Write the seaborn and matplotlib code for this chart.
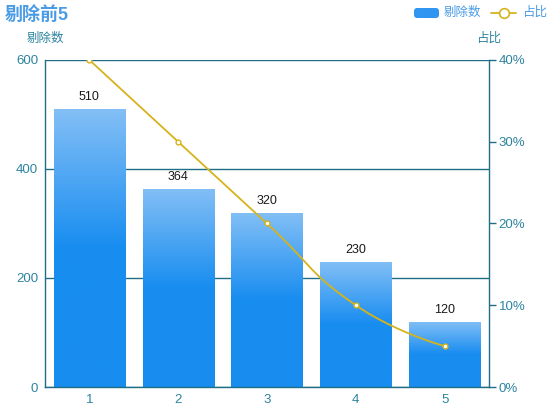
import numpy as np
import pandas as pd
import matplotlib
matplotlib.use('Agg')
import matplotlib.pyplot as plt
import seaborn as sns
from matplotlib.patches import FancyBboxPatch
from matplotlib.lines import Line2D

# datos
categorias = ['1', '2', '3', '4', '5']
tichu = [510, 364, 320, 230, 120]
zhanbi = [40, 30, 20, 10, 5]
ticks_izq = [0, 200, 400, 600]
ticks_der = [0, 10, 20, 30, 40]

sns.set_style('white')
plt.rcParams['font.family'] = ['Liberation Sans', 'Noto Sans CJK SC', 'DejaVu Sans']

teal = '#1e6e86'
tick_c = '#2d84a0'
azul_txt = '#4a9be6'
amarillo = '#d6b31c'
claro = np.array([0x83, 0xbf, 0xf6]) / 255
oscuro = np.array([0x18, 0x8d, 0xf0]) / 255

fig = plt.figure(figsize=(5.5, 4.2), dpi=100)
ax = fig.add_axes([45/550, 33/420, 444/550, 327/420])

df = pd.DataFrame({'cat': categorias, 'n': tichu})
sns.barplot(data=df, x='cat', y='n', color='#188df0', saturation=1, width=0.8, ax=ax, zorder=2)

# degradado por barra (claro arriba, oscuro desde la mitad)
filas = 200
t = np.linspace(1, 0, filas)
f = np.clip(t / 0.5, 0, 1)[:, None]
grad = claro * (1 - f) + oscuro * f
grad = grad[:, None, :]
for p in ax.patches:
    x0, w, h = p.get_x(), p.get_width(), p.get_height()
    im = ax.imshow(grad, extent=[x0, x0 + w, 0, h], origin='lower', aspect='auto', zorder=2)
    im.set_clip_path(p)
    p.set_facecolor('none')
    p.set_edgecolor('none')
    ax.annotate(str(int(h)), (x0 + w / 2, h), xytext=(0, 4), textcoords='offset points',
                ha='center', va='bottom', fontsize=9, color='#1a1a1a')

ax.set_xlim(-0.5, 4.5)
ax.set_ylim(0, 600)
ax.set_yticks(ticks_izq)
ax.set_xlabel('')
ax.set_ylabel('')
ax.yaxis.grid(True, color=teal, lw=1)
ax.set_axisbelow(True)
ax.tick_params(axis='both', length=0, pad=5, labelcolor=tick_c, labelsize=9.5)
for s in ['top', 'right']:
    ax.spines[s].set_visible(False)
for s in ['left', 'bottom']:
    ax.spines[s].set_color(teal)
    ax.spines[s].set_linewidth(1)

# curva suave tipo echarts (en pixeles)
ax2 = ax.twinx()
sx, sy = 444 / 5, 327 / 40
P = np.column_stack([np.arange(len(zhanbi)) * sx, np.array(zhanbi) * sy])
n = len(P)
cin = P.copy()
cout = P.copy()
suave = 0.5
for i in range(1, n - 1):
    v = P[i + 1] - P[i - 1]
    dn = np.linalg.norm(P[i + 1] - P[i])
    dp = np.linalg.norm(P[i] - P[i - 1])
    r = dn / (dn + dp)
    cin[i] = P[i] - v * suave * (1 - r)
    cout[i] = P[i] + v * suave * r
tt = np.linspace(0, 1, 40)[:, None]
curva = []
for i in range(n - 1):
    b = ((1 - tt) ** 3 * P[i] + 3 * (1 - tt) ** 2 * tt * cout[i]
         + 3 * (1 - tt) * tt ** 2 * cin[i + 1] + tt ** 3 * P[i + 1])
    curva.append(b)
curva = np.vstack(curva)
sns.lineplot(x=curva[:, 0] / sx, y=curva[:, 1] / sy, sort=False, estimator=None,
             color=amarillo, lw=1.3, ax=ax2)
sns.scatterplot(x=np.arange(len(zhanbi)), y=zhanbi, s=12, color='white',
                edgecolor=amarillo, linewidth=1, zorder=5, ax=ax2)

ax2.set_ylim(0, 40)
ax2.set_yticks(ticks_der)
ax2.set_yticklabels([f'{v}%' for v in ticks_der])
ax2.set_ylabel('')
ax2.tick_params(axis='y', length=5, width=1, color=teal, pad=2, labelcolor=tick_c, labelsize=9.5)
for s in ['top', 'left', 'bottom']:
    ax2.spines[s].set_visible(False)
ax2.spines['right'].set_color(teal)
ax2.spines['right'].set_linewidth(1)

# textos
fig.text(5/550, 1 - 15/420, '剔除前5', fontsize=13, fontweight='bold', color=azul_txt, va='center')
fig.text(45/550, 1 - 39/420, '剔除数', fontsize=9, color=tick_c, ha='center', va='center')
fig.text(489/550, 1 - 39/420, '占比', fontsize=9, color=tick_c, ha='center', va='center')

# leyenda manual
tr = fig.dpi_scale_trans
fig.add_artist(FancyBboxPatch((4.14, 4.02), 0.25, 0.10, boxstyle='round,pad=0,rounding_size=0.03',
                              transform=tr, facecolor='#2f95f0', edgecolor='none'))
fig.text(4.44, 4.07, '剔除数', transform=tr, fontsize=9, color=azul_txt, va='center')
fig.add_artist(Line2D([4.91, 5.16], [4.07, 4.07], transform=tr, color=amarillo, lw=1.3))
fig.add_artist(Line2D([5.035], [4.07], transform=tr, marker='o', ms=7, mfc='white',
                      mec=amarillo, mew=1.2))
fig.text(5.22, 4.07, '占比', transform=tr, fontsize=9, color=azul_txt, va='center')

fig.savefig('out.png', dpi=100)
